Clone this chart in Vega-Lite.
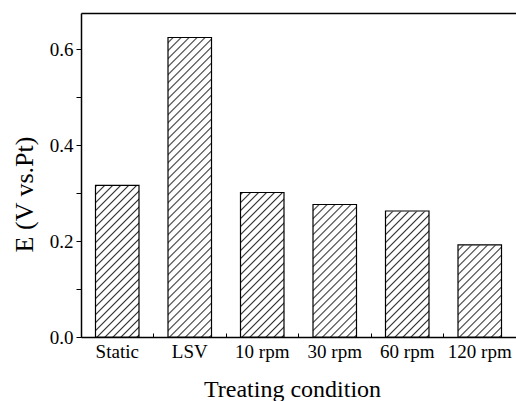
{
  "$schema": "https://vega.github.io/schema/vega-lite/v6.json",
  "autosize": {"type": "none"},
  "padding": {"left": 81, "top": 13, "right": 0, "bottom": 64},
  "width": 470,
  "height": 324,
  "background": "white",
  "config": {
    "view": {"stroke": null},
    "font": "Liberation Serif",
    "axis": {
      "labelFont": "Liberation Serif",
      "labelFontSize": 19,
      "labelColor": "black",
      "titleFont": "Liberation Serif",
      "titleFontWeight": "normal",
      "titleColor": "black",
      "tickColor": "black",
      "domainColor": "black",
      "domainWidth": 1.5,
      "grid": false,
      "zindex": 1
    },
    "axisY": {"titleFontSize": 26, "labelPadding": 3},
    "axisX": {"titleFontSize": 24, "labelPadding": 9}
  },
  "resolve": {"axis": {"x": "independent"}},
  "data": {
    "values": [
      {"condition": "Static", "E": 0.316},
      {"condition": "LSV", "E": 0.624},
      {"condition": "10 rpm", "E": 0.301},
      {"condition": "30 rpm", "E": 0.276},
      {"condition": "60 rpm", "E": 0.2625},
      {"condition": "120 rpm", "E": 0.192}
    ]
  },
  "layer": [
    {
      "mark": {
        "type": "bar",
        "fill": {
          "gradient": "linear",
          "x1": 0, "y1": 0, "x2": 0.1705, "y2": 1.2391,
          "stops": [
            {"offset": 0, "color": "#fff"}, {"offset": 0.0125, "color": "#fff"}, {"offset": 0.016, "color": "#333"},
            {"offset": 0.02, "color": "#fff"}, {"offset": 0.0325, "color": "#fff"}, {"offset": 0.036, "color": "#333"},
            {"offset": 0.04, "color": "#fff"}, {"offset": 0.0525, "color": "#fff"}, {"offset": 0.056, "color": "#333"},
            {"offset": 0.06, "color": "#fff"}, {"offset": 0.0725, "color": "#fff"}, {"offset": 0.076, "color": "#333"},
            {"offset": 0.08, "color": "#fff"}, {"offset": 0.0925, "color": "#fff"}, {"offset": 0.096, "color": "#333"},
            {"offset": 0.1, "color": "#fff"}, {"offset": 0.1125, "color": "#fff"}, {"offset": 0.116, "color": "#333"},
            {"offset": 0.12, "color": "#fff"}, {"offset": 0.1325, "color": "#fff"}, {"offset": 0.136, "color": "#333"},
            {"offset": 0.14, "color": "#fff"}, {"offset": 0.1525, "color": "#fff"}, {"offset": 0.156, "color": "#333"},
            {"offset": 0.16, "color": "#fff"}, {"offset": 0.1725, "color": "#fff"}, {"offset": 0.176, "color": "#333"},
            {"offset": 0.18, "color": "#fff"}, {"offset": 0.1925, "color": "#fff"}, {"offset": 0.196, "color": "#333"},
            {"offset": 0.2, "color": "#fff"}, {"offset": 0.2125, "color": "#fff"}, {"offset": 0.216, "color": "#333"},
            {"offset": 0.22, "color": "#fff"}, {"offset": 0.2325, "color": "#fff"}, {"offset": 0.236, "color": "#333"},
            {"offset": 0.24, "color": "#fff"}, {"offset": 0.2525, "color": "#fff"}, {"offset": 0.256, "color": "#333"},
            {"offset": 0.26, "color": "#fff"}, {"offset": 0.2725, "color": "#fff"}, {"offset": 0.276, "color": "#333"},
            {"offset": 0.28, "color": "#fff"}, {"offset": 0.2925, "color": "#fff"}, {"offset": 0.296, "color": "#333"},
            {"offset": 0.3, "color": "#fff"}, {"offset": 0.3125, "color": "#fff"}, {"offset": 0.316, "color": "#333"},
            {"offset": 0.32, "color": "#fff"}, {"offset": 0.3325, "color": "#fff"}, {"offset": 0.336, "color": "#333"},
            {"offset": 0.34, "color": "#fff"}, {"offset": 0.3525, "color": "#fff"}, {"offset": 0.356, "color": "#333"},
            {"offset": 0.36, "color": "#fff"}, {"offset": 0.3725, "color": "#fff"}, {"offset": 0.376, "color": "#333"},
            {"offset": 0.38, "color": "#fff"}, {"offset": 0.3925, "color": "#fff"}, {"offset": 0.396, "color": "#333"},
            {"offset": 0.4, "color": "#fff"}, {"offset": 0.4125, "color": "#fff"}, {"offset": 0.416, "color": "#333"},
            {"offset": 0.42, "color": "#fff"}, {"offset": 0.4325, "color": "#fff"}, {"offset": 0.436, "color": "#333"},
            {"offset": 0.44, "color": "#fff"}, {"offset": 0.4525, "color": "#fff"}, {"offset": 0.456, "color": "#333"},
            {"offset": 0.46, "color": "#fff"}, {"offset": 0.4725, "color": "#fff"}, {"offset": 0.476, "color": "#333"},
            {"offset": 0.48, "color": "#fff"}, {"offset": 0.4925, "color": "#fff"}, {"offset": 0.496, "color": "#333"},
            {"offset": 0.5, "color": "#fff"}, {"offset": 0.5125, "color": "#fff"}, {"offset": 0.516, "color": "#333"},
            {"offset": 0.52, "color": "#fff"}, {"offset": 0.5325, "color": "#fff"}, {"offset": 0.536, "color": "#333"},
            {"offset": 0.54, "color": "#fff"}, {"offset": 0.5525, "color": "#fff"}, {"offset": 0.556, "color": "#333"},
            {"offset": 0.56, "color": "#fff"}, {"offset": 0.5725, "color": "#fff"}, {"offset": 0.576, "color": "#333"},
            {"offset": 0.58, "color": "#fff"}, {"offset": 0.5925, "color": "#fff"}, {"offset": 0.596, "color": "#333"},
            {"offset": 0.6, "color": "#fff"}, {"offset": 0.6125, "color": "#fff"}, {"offset": 0.616, "color": "#333"},
            {"offset": 0.62, "color": "#fff"}, {"offset": 0.6325, "color": "#fff"}, {"offset": 0.636, "color": "#333"},
            {"offset": 0.64, "color": "#fff"}, {"offset": 0.6525, "color": "#fff"}, {"offset": 0.656, "color": "#333"},
            {"offset": 0.66, "color": "#fff"}, {"offset": 0.6725, "color": "#fff"}, {"offset": 0.676, "color": "#333"},
            {"offset": 0.68, "color": "#fff"}, {"offset": 0.6925, "color": "#fff"}, {"offset": 0.696, "color": "#333"},
            {"offset": 0.7, "color": "#fff"}, {"offset": 0.7125, "color": "#fff"}, {"offset": 0.716, "color": "#333"},
            {"offset": 0.72, "color": "#fff"}, {"offset": 0.7325, "color": "#fff"}, {"offset": 0.736, "color": "#333"},
            {"offset": 0.74, "color": "#fff"}, {"offset": 0.7525, "color": "#fff"}, {"offset": 0.756, "color": "#333"},
            {"offset": 0.76, "color": "#fff"}, {"offset": 0.7725, "color": "#fff"}, {"offset": 0.776, "color": "#333"},
            {"offset": 0.78, "color": "#fff"}, {"offset": 0.7925, "color": "#fff"}, {"offset": 0.796, "color": "#333"},
            {"offset": 0.8, "color": "#fff"}, {"offset": 0.8125, "color": "#fff"}, {"offset": 0.816, "color": "#333"},
            {"offset": 0.82, "color": "#fff"}, {"offset": 0.8325, "color": "#fff"}, {"offset": 0.836, "color": "#333"},
            {"offset": 0.84, "color": "#fff"}, {"offset": 0.8525, "color": "#fff"}, {"offset": 0.856, "color": "#333"},
            {"offset": 0.86, "color": "#fff"}, {"offset": 0.8725, "color": "#fff"}, {"offset": 0.876, "color": "#333"},
            {"offset": 0.88, "color": "#fff"}, {"offset": 0.8925, "color": "#fff"}, {"offset": 0.896, "color": "#333"},
            {"offset": 0.9, "color": "#fff"}, {"offset": 0.9125, "color": "#fff"}, {"offset": 0.916, "color": "#333"},
            {"offset": 0.92, "color": "#fff"}, {"offset": 1, "color": "#fff"}
          ]
        }
      },
      "encoding": {
        "x": {
          "field": "condition",
          "type": "nominal",
          "sort": null,
          "scale": {"paddingInner": 0.4, "paddingOuter": 0.2, "range": [0, 435]},
          "axis": {"orient": "top", "title": null, "labels": false, "ticks": false, "domainWidth": 1.5}
        },
        "y": {
          "datum": 0.66,
          "type": "quantitative",
          "scale": {"domain": [0, 0.675], "nice": false, "zero": true},
          "axis": {
            "orient": "left",
            "title": "E (V vs.Pt)",
            "titleFont": "Liberation Serif",
            "titleFontSize": 26,
            "titleFontWeight": "normal",
            "titleX": -49,
            "titleY": 181,
            "titleBaseline": "alphabetic",
            "titleAnchor": "middle",
            "values": [0, 0.1, 0.2, 0.3, 0.4, 0.5, 0.6],
            "labelExpr": "round(datum.value*10) % 2 == 0 ? format(datum.value, '.1f') : ''",
            "labelFont": "Liberation Serif",
            "labelFontSize": 19,
            "tickSize": 5
          }
        },
        "y2": {"datum": 0}
      }
    },
    {
      "mark": {"type": "bar", "fill": "white", "stroke": "white", "strokeWidth": 1},
      "encoding": {
        "x": {"field": "condition", "type": "nominal", "sort": null, "axis": null},
        "y": {
          "field": "E",
          "type": "quantitative",
          "axis": {
            "orient": "left",
            "title": "E (V vs.Pt)",
            "titleFont": "Liberation Serif",
            "titleFontSize": 26,
            "titleFontWeight": "normal",
            "titleX": -49,
            "titleY": 181,
            "titleBaseline": "alphabetic",
            "titleAnchor": "middle",
            "values": [0, 0.1, 0.2, 0.3, 0.4, 0.5, 0.6],
            "labelExpr": "round(datum.value*10) % 2 == 0 ? format(datum.value, '.1f') : ''",
            "labelFont": "Liberation Serif",
            "labelFontSize": 19,
            "tickSize": 5
          }
        },
        "y2": {"datum": 0.667}
      }
    },
    {
      "mark": {"type": "bar", "fill": "transparent", "stroke": "black", "strokeWidth": 1.2},
      "encoding": {
        "x": {
          "field": "condition",
          "type": "nominal",
          "sort": null,
          "axis": {
            "orient": "bottom",
            "title": "Treating condition",
            "titleX": 211,
            "titleY": 59,
            "titleBaseline": "alphabetic",
            "titleAnchor": "middle",
            "labelAngle": 0,
            "bandPosition": -0.333,
            "tickSize": -4,
            "tickWidth": 1
          }
        },
        "y": {
          "field": "E",
          "type": "quantitative",
          "axis": {
            "orient": "left",
            "title": "E (V vs.Pt)",
            "titleFont": "Liberation Serif",
            "titleFontSize": 26,
            "titleFontWeight": "normal",
            "titleX": -49,
            "titleY": 181,
            "titleBaseline": "alphabetic",
            "titleAnchor": "middle",
            "values": [0, 0.1, 0.2, 0.3, 0.4, 0.5, 0.6],
            "labelExpr": "round(datum.value*10) % 2 == 0 ? format(datum.value, '.1f') : ''",
            "labelFont": "Liberation Serif",
            "labelFontSize": 19,
            "tickSize": 5
          }
        },
        "y2": {"datum": 0}
      }
    }
  ]
}
